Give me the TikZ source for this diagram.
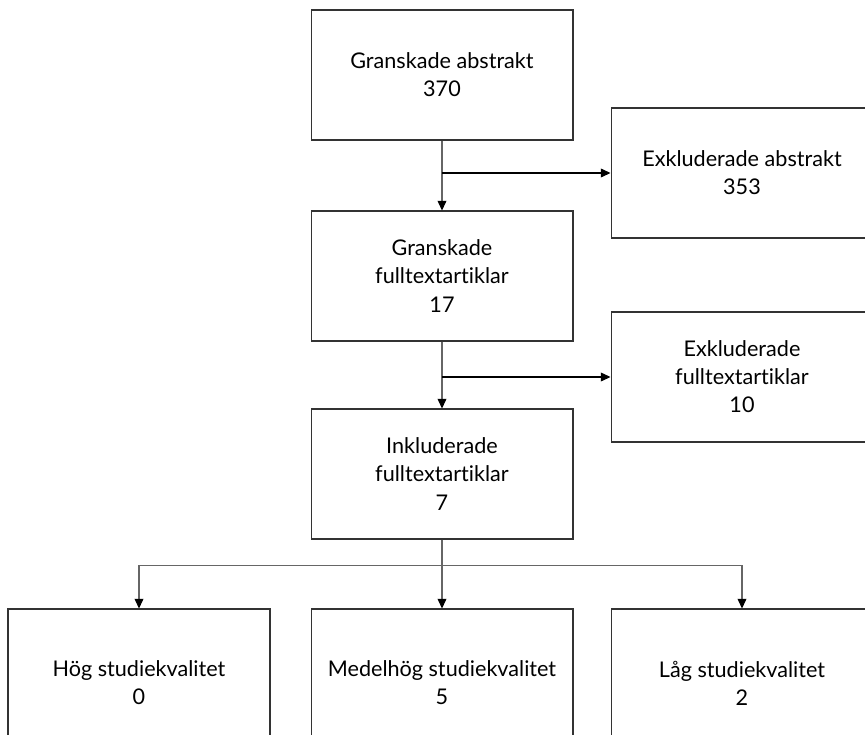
\documentclass[tikz,border=0pt]{standalone}
\usepackage{fontspec}
\setmainfont{Lato}[Ligatures={NoCommon,NoRequired}]
\usetikzlibrary{arrows.meta,positioning,calc}
\definecolor{framecol}{HTML}{333333}
\definecolor{linecol}{HTML}{666666}
\tikzset{
  flowbox/.style={draw=framecol, line width=0.6pt, align=center,
    minimum width=5.24cm, minimum height=2.6cm, inner sep=0pt,
    font=\fontsize{12.3}{16}\selectfont},
  tallbox/.style={flowbox, minimum height=2.96cm},
  arr/.style={-{Triangle[width=5pt,length=5.5pt,color=black]}, line width=0.6pt, draw=linecol},
  sidearr/.style={arr, draw=black}
}
\begin{document}
\begin{tikzpicture}[x=0.02cm,y=-0.02cm]
  \clip (0,0) rectangle (865,734);
  \fill[white] (0,0) rectangle (865,734);
  % main column
  \node[flowbox] (abs) at (442,75) {Granskade abstrakt\\370};
  \node[flowbox] (full) at (442,276) {Granskade\\fulltextartiklar\\17};
  \node[flowbox] (incl) at (442,474) {Inkluderade\\fulltextartiklar\\7};
  % exclusions
  \node[flowbox] (exabs) at (742,173) {Exkluderade abstrakt\\353};
  \node[flowbox] (exfull) at (742,377) {Exkluderade\\fulltextartiklar\\10};
  % quality
  \node[tallbox] (high) at (139,683) {Hög studiekvalitet\\0};
  \node[tallbox] (mid) at (442,683) {Medelhög studiekvalitet\\5};
  \node[tallbox] (low) at (742,683) {Låg studiekvalitet\\2};
  \coordinate (split) at ($(incl.south)!0.37!(mid.north)$);
  \draw[arr] (abs) -- (full);
  \draw[sidearr] (abs.south |- exabs.west) -- (exabs.west);
  \draw[arr] (full) -- (incl);
  \draw[sidearr] (full.south |- exfull.west) -- (exfull.west);
  \draw[arr] (incl) -- (mid);
  \draw[arr] (split) -| (high.north);
  \draw[arr] (split) -| (low.north);
\end{tikzpicture}
\end{document}
